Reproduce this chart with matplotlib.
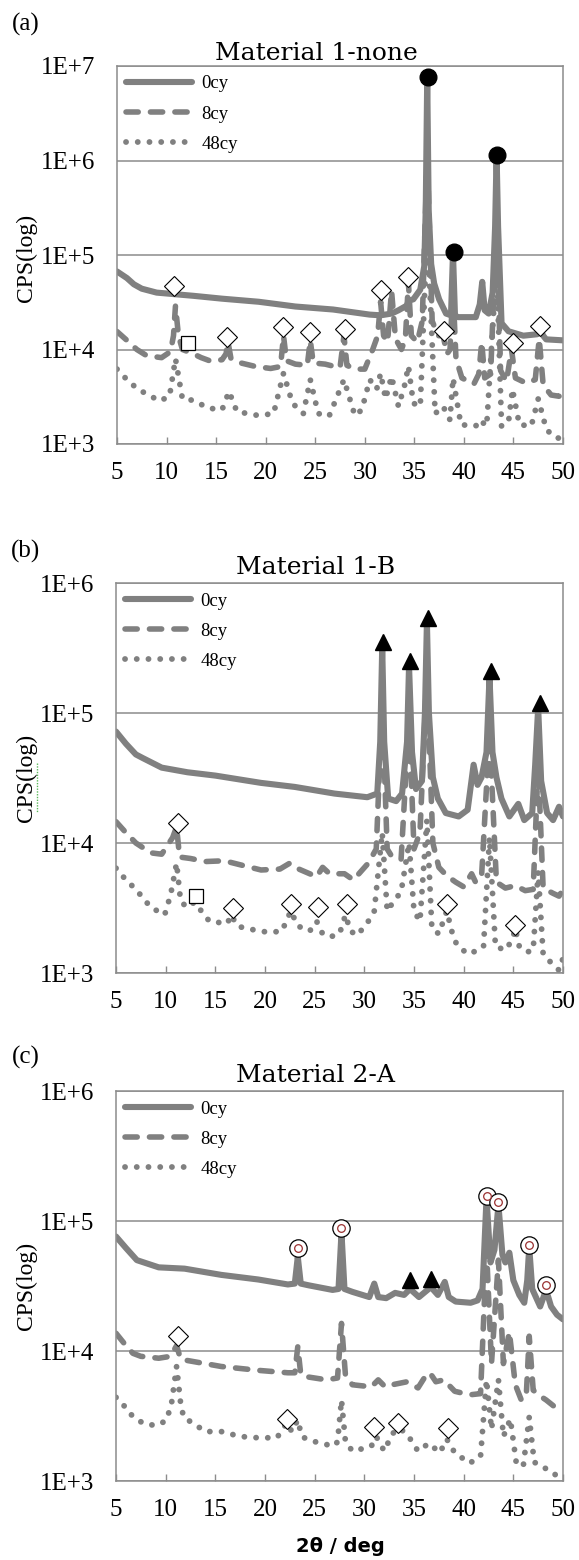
import numpy as np
import matplotlib
matplotlib.use('Agg')
import matplotlib.pyplot as plt
from matplotlib.lines import Line2D
from matplotlib.ticker import NullLocator

# ---------------- data ----------------
# panel (a) Material 1-none
a_0cy_x = [5, 6, 6.7, 7.5, 9, 10.8, 12.7, 15.6, 19.3, 23, 26.8, 30.5, 31.6, 32.7, 33.4, 34.2, 34.5,
           34.9, 35.6, 36.0, 36.15, 36.3, 36.45, 36.7, 37.0, 37.5, 38.2, 38.7, 38.9, 39.1, 39.4,
           41.2, 41.6, 41.85, 42.1, 42.5, 42.9, 43.15, 43.3, 43.45, 43.8, 44.5, 46.0, 47.4, 47.7,
           48.0, 48.3, 50]
a_0cy_y = [67e3, 57e3, 49e3, 44e3, 40e3, 38.5e3, 37e3, 34.5e3, 32e3, 28.5e3, 26.5e3, 23.4e3, 23e3,
           24e3, 26e3, 29e3, 33e3, 34e3, 43e3, 76e3, 3e5, 7.5e6, 3e5, 8e4, 5e4, 34e3, 24e3, 23e3,
           1.05e5, 23e3, 22e3, 22e3, 30e3, 52e3, 26e3, 24e3, 40e3, 2e5, 1.15e6, 2e5, 19e3,
           15.6e3, 14e3, 14.5e3, 16.5e3, 14e3, 12.8e3, 12.5e3]
a_8cy_x = [5, 6, 7, 8, 9.5, 10.4, 10.7, 10.9, 11.2, 11.6, 12.5, 13.5, 14.5, 15.6, 16.0, 16.2, 16.5,
           17.5, 19, 20.5, 21.5, 21.8, 22.1, 23, 24.2, 24.5, 24.8, 26, 27.5, 27.9, 28.2, 29, 30,
           30.8, 31.3, 31.6, 31.9, 32.3, 32.7, 33.1, 33.7, 34.1, 34.4, 34.7, 35.3, 35.8, 36.3,
           36.8, 37.4, 37.9, 38.3, 38.6, 38.9, 39.2, 39.8, 41, 41.5, 41.8, 42.1, 42.7, 43.3, 43.7,
           44.3, 44.8, 45.2, 46.3, 47.2, 47.6, 48, 48.8, 49.6, 50]
a_8cy_y = [15.5e3, 12.5e3, 10e3, 8.6e3, 8.2e3, 9.5e3, 14e3, 29e3, 14e3, 10e3, 9.2e3, 8.2e3, 7.5e3,
           7.8e3, 9e3, 12e3, 8e3, 7.2e3, 6.6e3, 6.3e3, 6.6e3, 14e3, 7.6e3, 7e3, 6.8e3, 12.5e3,
           7.2e3, 7e3, 6.4e3, 14e3, 6.8e3, 6.2e3, 6.2e3, 10e3, 14e3, 32e3, 14e3, 12e3, 42e3, 13e3,
           10e3, 13e3, 52e3, 14e3, 12e3, 20e3, 1.2e6, 20e3, 14e3, 14e3, 9e3, 10e3, 45e3, 8e3, 5e3,
           4.3e3, 5.5e3, 12e3, 5e3, 5.5e3, 2.5e5, 6e3, 4.6e3, 10e3, 5e3, 4.4e3, 4.8e3, 13e3,
           4.2e3, 3.3e3, 3.2e3, 3.7e3]
a_48cy_x = [5, 6, 7.1, 8.2, 9.3, 10.3, 10.9, 11.6, 12.7, 14.2, 15.6, 16.3, 17.1, 19.3, 20.8, 21.8,
            22.7, 23.8, 24.5, 25.3, 26.4, 27.9, 29, 29.7, 30.5, 31.2, 31.6, 32.1, 32.7, 33.4, 34.0,
            34.4, 34.9, 35.6, 36.3, 37.1, 37.9, 38.6, 38.9, 39.7, 41.2, 41.6, 42.3, 43.3, 43.8,
            44.5, 44.9, 45.6, 46.8, 47.5, 48.3, 49, 49.6, 50]
a_48cy_y = [6.2e3, 4.8e3, 3.8e3, 3.3e3, 2.85e3, 3.2e3, 8e3, 3e3, 2.9e3, 2.4e3, 2.3e3, 3.6e3, 2.2e3,
            2e3, 2.1e3, 5.6e3, 2.7e3, 2.1e3, 4.8e3, 2.1e3, 1.97e3, 4.8e3, 2e3, 2.3e3, 4.8e3, 3.8e3,
            5.6e3, 3e3, 5.2e3, 2.5e3, 4.1e3, 6.7e3, 2.7e3, 2.5e3, 2e5, 2.1e3, 2.5e3, 1.8e3, 5e3,
            1.6e3, 1.55e3, 1.8e3, 1.55e3, 8e4, 1.55e3, 1.7e3, 3.8e3, 1.6e3, 1.55e3, 3e3, 1.45e3,
            1.2e3, 1.15e3, 1.4e3]

# panel (b) Material 1-B
b_0cy_x = [5, 6, 7, 7.7, 9.6, 12.2, 15, 19.6, 23, 27, 30.3, 31.3, 31.6, 31.8, 32.0, 32.4, 33.2, 33.8,
           34.3, 34.5, 34.8, 35.2, 35.8, 36.1, 36.3, 36.5, 36.9, 37.4, 38.2, 39.5, 40.4, 41.0, 41.4,
           41.8, 42.3, 42.6, 42.9, 43.3, 43.8, 44.6, 45.5, 46.1, 46.9, 47.2, 47.5, 47.8, 48.4, 49.0,
           49.6, 50]
b_0cy_y = [72e3, 58e3, 48e3, 45e3, 38e3, 35e3, 33e3, 29e3, 27e3, 24e3, 22.5e3, 24e3, 60e3, 3.2e5,
           60e3, 22e3, 21e3, 24e3, 60e3, 2.3e5, 50e3, 26e3, 30e3, 1e5, 5e5, 1e5, 32e3, 22e3, 17e3,
           16e3, 18e3, 40e3, 28e3, 32e3, 50e3, 1.9e5, 50e3, 32e3, 22e3, 16e3, 20e3, 15e3, 17e3,
           40e3, 1.1e5, 30e3, 17e3, 15e3, 19e3, 16e3]
b_8cy_x = [5, 6, 7, 8.5, 9.6, 10.7, 11.1, 11.4, 12.5, 14, 15.9, 17.5, 19.6, 21.5, 22.5, 23.2, 25.2,
           25.8, 26.5, 28, 28.9, 30.4, 31.2, 31.8, 32.3, 32.8, 33.7, 34.5, 35.0, 35.6, 36.3, 36.9,
           37.5, 38.3, 39.2, 40, 40.8, 41.2, 41.8, 42.6, 43.3, 44.2, 45.2, 46.2, 47.0, 47.5, 48.0,
           49, 49.6, 50]
b_8cy_y = [14.6e3, 12e3, 10e3, 8.4e3, 8.2e3, 11e3, 13.3e3, 7.8e3, 7.6e3, 7.2e3, 7.3e3, 6.8e3, 6.2e3,
           6.3e3, 7e3, 6.4e3, 5.5e3, 6.5e3, 5.8e3, 5.8e3, 5.2e3, 7e3, 9e3, 1.2e5, 9e3, 7.8e3, 7.5e3,
           9e4, 9e3, 12e3, 2e5, 10e3, 6.5e3, 5.6e3, 5e3, 4.6e3, 5.8e3, 5e3, 5.5e3, 7e4, 5e3, 4.5e3,
           4.7e3, 4.3e3, 4.4e3, 4e4, 4.5e3, 4.1e3, 3.9e3, 4.4e3]
b_48cy_x = [5, 6, 7, 8.5, 9.9, 10.5, 11.1, 11.5, 12.1, 12.9, 14.4, 16.2, 16.6, 17.2, 18.1, 20.4,
            21.7, 22.6, 23.3, 24.5, 25.2, 25.8, 26.6, 27.5, 28.1, 28.6, 29.3, 30.4, 31.0, 31.8,
            32.3, 33.0, 33.7, 34.5, 35.0, 35.6, 36.3, 36.8, 37.5, 38.3, 38.8, 39.3, 40.4, 41.5,
            42.0, 42.6, 43.2, 44.2, 44.9, 45.2, 45.6, 46.4, 47.0, 47.5, 48, 48.8, 49.6, 50]
b_48cy_y = [6.4e3, 5.2e3, 4.4e3, 3.2e3, 2.8e3, 4e3, 7e3, 3.6e3, 3.2e3, 3.5e3, 2.5e3, 2.4e3, 2.8e3,
            2.3e3, 2.2e3, 2.05e3, 2.1e3, 3e3, 2.3e3, 2.1e3, 2.5e3, 2.0e3, 1.9e3, 2.0e3, 2.8e3,
            2.1e3, 1.95e3, 2.5e3, 3e3, 1.2e4, 3e3, 3.6e3, 4.2e3, 1.0e4, 3e3, 2.5e3, 1.5e4, 2.2e3, 2e3,
            3e3, 2.1e3, 1.65e3, 1.4e3, 1.5e3, 1.6e3, 1.1e4, 1.6e3, 1.5e3, 1.8e3, 2.2e3, 1.6e3,
            1.45e3, 1.5e3, 6e3, 1.4e3, 1.2e3, 1.05e3, 1.3e3]

# panel (c) Material 2-A
c_0cy_x = [5, 6, 7.1, 9.3, 11.9, 15.6, 19.3, 22.3, 23.0, 23.3, 23.6, 24.4, 26.8, 27.4, 27.7, 28.0,
           28.8, 30.5, 31.0, 31.4, 32.2, 33.1, 34.0, 34.6, 35.5, 36.7, 37.4, 38.1, 38.5, 39.2, 40.7,
           41.4, 41.9, 42.3, 42.7, 43.1, 43.5, 43.9, 44.2, 44.6, 45.0, 45.6, 46.1, 46.4, 46.6, 46.9,
           47.7, 48.3, 48.8, 49.4, 50]
c_0cy_y = [76e3, 62e3, 50e3, 44e3, 43e3, 38.5e3, 35.5e3, 32.5e3, 33e3, 53e3, 33e3, 32e3, 29.5e3,
           30e3, 81e3, 30e3, 28.5e3, 26e3, 33e3, 26e3, 25.5e3, 28e3, 27e3, 30e3, 26e3, 31e3, 27e3,
           34e3, 26e3, 24e3, 23.5e3, 24.5e3, 30e3, 1.5e5, 48e3, 60e3, 1.33e5, 55e3, 48e3, 57e3,
           35e3, 27e3, 23.5e3, 35e3, 63e3, 30e3, 22e3, 29.5e3, 22e3, 19e3, 17.5e3]
c_8cy_x = [5, 5.8, 6.7, 7.5, 9.3, 10.5, 11.1, 11.5, 12, 15.6, 19.3, 22.3, 23.0, 23.3, 23.6, 24.4,
           26.2, 27.3, 27.7, 28.1, 28.8, 30.7, 31.4, 32.1, 32.8, 34.3, 35.4, 36.2, 36.6, 37.2, 38.0,
           39.1, 40.6, 41.7, 42.3, 42.8, 43.5, 44.0, 44.6, 45.2, 45.8, 46.3, 46.6, 47.0, 47.7, 48.3,
           49.2, 50]
c_8cy_y = [13.7e3, 11.5e3, 9.6e3, 9.1e3, 8.8e3, 9.1e3, 11e3, 8.7e3, 8.5e3, 7.6e3, 7.1e3, 6.8e3,
           6.8e3, 10.8e3, 6.6e3, 6.3e3, 6e3, 6.2e3, 16.3e3, 6.5e3, 5.5e3, 5.3e3, 6e3, 5.3e3, 5.5e3,
           5.8e3, 5.2e3, 6.5e3, 6.8e3, 5.8e3, 6e3, 4.9e3, 4.6e3, 4.7e3, 6e4, 8e3, 5e4, 8e3, 1.4e4,
           5.5e3, 4.2e3, 4.5e3, 1.3e4, 5e3, 4.5e3, 4.2e3, 3.7e3, 3.4e3]
c_48cy_x = [5, 5.8, 6.4, 7.3, 8.2, 9.3, 10.1, 10.6, 11.1, 11.5, 11.8, 13, 14, 15.6, 17.5, 19.3, 21.2,
            22.2, 22.7, 23.3, 23.7, 24.5, 25.1, 26.9, 27.3, 27.7, 28.1, 28.8, 30.2, 30.7, 31.2,
            32.0, 32.8, 33.5, 34.3, 35.4, 36.5, 37.6, 38.3, 39.1, 40.6, 41.7, 42.3, 42.8, 43.5,
            44.0, 44.7, 45.3, 46.0, 46.6, 47.1, 47.7, 48.8, 49.6, 50]
c_48cy_y = [4.4e3, 3.8e3, 3.3e3, 2.9e3, 2.7e3, 2.7e3, 2.95e3, 4e3, 7.6e3, 4e3, 3.1e3, 2.7e3, 2.4e3,
            2.4e3, 2.2e3, 2.15e3, 2.15e3, 2.8e3, 2.4e3, 2.95e3, 2.2e3, 2.05e3, 2.0e3, 1.85e3, 2.0e3,
            4.2e3, 2.0e3, 1.7e3, 1.8e3, 1.85e3, 2.2e3, 1.7e3, 2.3e3, 2.55e3, 2.3e3, 1.7e3, 1.95e3,
            1.65e3, 2.1e3, 1.65e3, 1.37e3, 1.55e3, 6e3, 2.5e3, 6e3, 2.2e3, 3e3, 1.37e3, 1.3e3,
            3.1e3, 1.4e3, 1.3e3, 1.2e3, 1.05e3, 1.1e3]

# phase markers (x = 2theta, y = CPS)
a_diamond_x = [10.8, 16.1, 21.75, 24.5, 28.0, 31.6, 34.4, 38.0, 45.0, 47.7]
a_diamond_y = [47e3, 13.6e3, 17.4e3, 15.3e3, 16.3e3, 43e3, 58e3, 15.6e3, 11.7e3, 17.6e3]
a_square_x = [12.2]
a_square_y = [11.6e3]
a_circle_x = [36.4, 39.0, 43.3]
a_circle_y = [7.6e6, 1.08e5, 1.13e6]

b_diamond_x = [11.2, 16.8, 22.6, 25.3, 28.3, 38.3, 45.2]
b_diamond_y = [14.2e3, 3.15e3, 3.4e3, 3.2e3, 3.4e3, 3.4e3, 2.35e3]
b_square_x = [13.1]
b_square_y = [3.9e3]
b_triangle_x = [31.9, 34.6, 36.45, 42.75, 47.7]
b_triangle_y = [3.5e5, 2.5e5, 5.4e5, 2.1e5, 1.2e5]

c_diamond_x = [11.2, 22.2, 31.0, 33.4, 38.4]
c_diamond_y = [13e3, 3.0e3, 2.6e3, 2.78e3, 2.55e3]
c_triangle_x = [34.6, 36.7]
c_triangle_y = [35e3, 35.5e3]
c_bullseye_x = [23.3, 27.7, 42.3, 43.5, 46.6, 48.3]
c_bullseye_y = [62e3, 88e3, 1.55e5, 1.4e5, 65e3, 32e3]

series_labels = ['0cy', '8cy', '48cy']
x_ticks = [5, 10, 15, 20, 25, 30, 35, 40, 45, 50]

W, H = 579, 1560
GRAY = '#808080'
EDGE = '#8c8c8c'
SERIF = 'Liberation Serif'

fig = plt.figure(figsize=(W / 100, H / 100), dpi=100)


def px_axes(left, top, right, bottom):
    return fig.add_axes([left / W, 1 - bottom / H, (right - left) / W, (bottom - top) / H])


def draw_panel(ax, curves, ymax):
    styles = [dict(linestyle='-', lw=4.4, solid_capstyle='round'),
              dict(linestyle=(0, (2.2, 2.2)), lw=4.0, dash_capstyle='round'),
              dict(linestyle=(0, (0.01, 2.0)), lw=4.2, dash_capstyle='round')]
    for (x, y), lab, st in zip(curves, series_labels, styles):
        ax.plot(x, y, color=GRAY, label=lab, solid_joinstyle='round', **st)
    ax.set_yscale('log')
    ax.set_xlim(5, 50)
    ax.set_ylim(1e3, ymax)
    ax.yaxis.set_minor_locator(NullLocator())
    yt = [10 ** k for k in range(3, int(round(np.log10(ymax))) + 1)]
    ax.set_yticks(yt)
    ax.set_yticklabels(['1E+%d' % int(round(np.log10(v))) for v in yt])
    ax.set_xticks(x_ticks)
    ax.set_xticklabels([str(t) for t in x_ticks])
    ax.tick_params(axis='y', length=0, pad=16, labelsize=18)
    ax.tick_params(axis='x', direction='in', length=5, width=1, color=EDGE, pad=13, labelsize=18)
    for lab in ax.get_xticklabels() + ax.get_yticklabels():
        lab.set_fontfamily(SERIF)
    ax.grid(axis='y', color=EDGE, lw=1.1)
    ax.set_axisbelow(True)
    for sp in ax.spines.values():
        sp.set_color(EDGE)
        sp.set_linewidth(1.1)
    leg = ax.legend(loc='upper left', frameon=False, handlelength=3.5, handletextpad=0.5,
                    borderaxespad=0.3, borderpad=0.2, labelspacing=0.7,
                    prop={'family': SERIF, 'size': 13.5})
    return leg


def diamonds(ax, x, y):
    ax.plot(x, y, 'D', ms=10.5, mfc='white', mec='black', mew=0.8, ls='none', zorder=6)


def squares(ax, x, y):
    ax.plot(x, y, 's', ms=10, mfc='white', mec='black', mew=0.9, ls='none', zorder=6)


def triangles(ax, x, y):
    ax.plot(x, y, '^', ms=11, color='black', ls='none', zorder=6)


ax_a = px_axes(117, 66, 563, 444)
draw_panel(ax_a, [(a_0cy_x, a_0cy_y), (a_8cy_x, a_8cy_y), (a_48cy_x, a_48cy_y)], 1e7)
diamonds(ax_a, a_diamond_x, a_diamond_y)
squares(ax_a, a_square_x, a_square_y)
ax_a.plot(a_circle_x, a_circle_y, 'o', ms=12, color='black', ls='none', zorder=6)

ax_b = px_axes(116, 583, 563, 973)
draw_panel(ax_b, [(b_0cy_x, b_0cy_y), (b_8cy_x, b_8cy_y), (b_48cy_x, b_48cy_y)], 1e6)
diamonds(ax_b, b_diamond_x, b_diamond_y)
squares(ax_b, b_square_x, b_square_y)
triangles(ax_b, b_triangle_x, b_triangle_y)

ax_c = px_axes(116, 1091, 563, 1481)
draw_panel(ax_c, [(c_0cy_x, c_0cy_y), (c_8cy_x, c_8cy_y), (c_48cy_x, c_48cy_y)], 1e6)
diamonds(ax_c, c_diamond_x, c_diamond_y)
triangles(ax_c, c_triangle_x, c_triangle_y)
ax_c.plot(c_bullseye_x, c_bullseye_y, 'o', ms=12.5, mfc='white', mec='black', mew=0.9,
          ls='none', zorder=6)
ax_c.plot(c_bullseye_x, c_bullseye_y, 'o', ms=5.5, mfc='white', mec='#9a3030', mew=0.9,
          ls='none', zorder=7)

# panel letters, titles and axis texts
for lab, ty in [('(a)', 24), ('(b)', 551), ('(c)', 1057)]:
    fig.text(26 / W, 1 - ty / H, lab, fontsize=18, family=SERIF, ha='center', va='center')
for title, ty in [('Material 1-none', 53), ('Material 1-B', 567), ('Material 2-A', 1075)]:
    fig.text(316 / W, 1 - ty / H, title, fontsize=18, family='DejaVu Serif',
             ha='center', va='center')
for cy in [258, 778, 1286]:
    fig.text(26 / W, 1 - cy / H, 'CPS(log)', fontsize=17, family=SERIF, rotation=90,
             ha='center', va='center')
# spell-check squiggle under "CPS" in panel (b)
fig.add_artist(Line2D([37 / W, 37 / W], [1 - 763 / H, 1 - 813 / H], color='#5cb85c', lw=1,
                      ls=(0, (1, 1))))
fig.text(340 / W, 1 - 1547 / H, '2θ / deg', fontsize=14, family='DejaVu Sans',
         weight='bold', ha='center', va='center')

fig.savefig('out.png', dpi=100)
